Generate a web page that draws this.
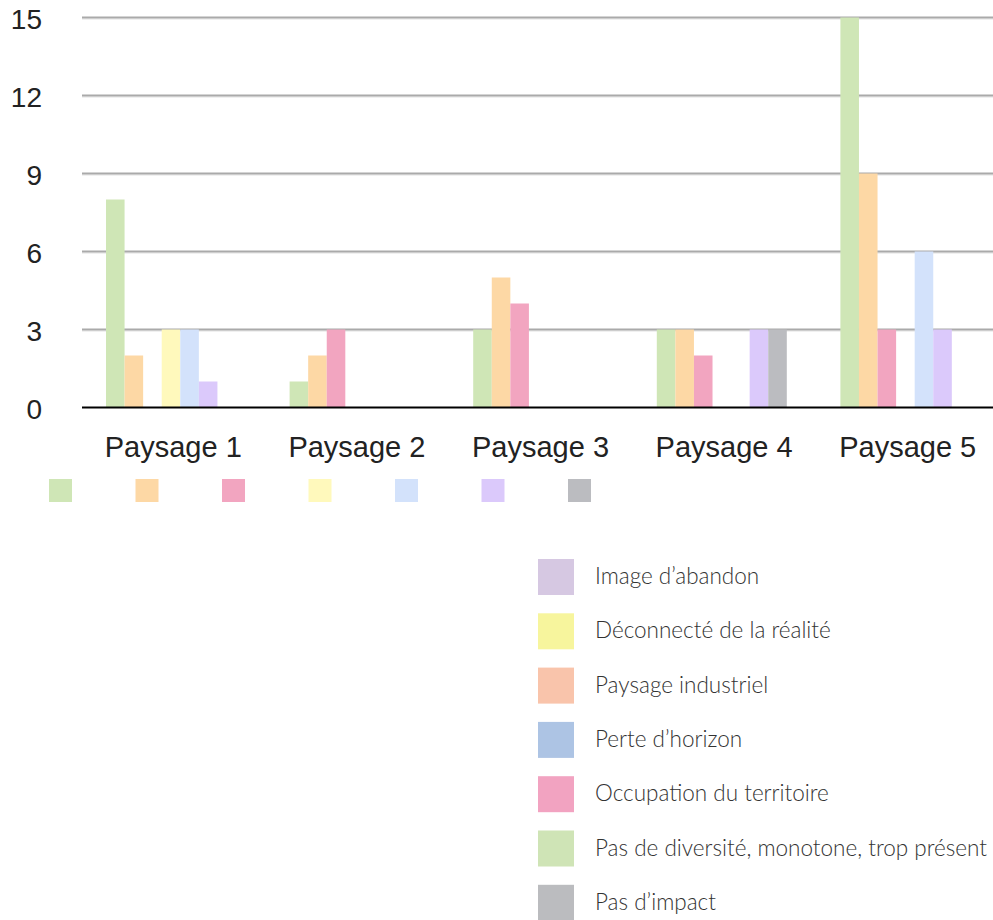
<!DOCTYPE html>
<html>
<head>
<meta charset="utf-8">
<script src="https://cdn.jsdelivr.net/npm/d3@7"></script>
<style>
  body { margin: 0; background: #fff; }
  svg { display: block; }
</style>
</head>
<body>
<svg></svg>
<script>
const width = 993,
  height = 920;

// categories and series
const paysages = ["Paysage 1", "Paysage 2", "Paysage 3", "Paysage 4", "Paysage 5"];
const series = ["diversite", "industriel", "occupation", "deconnecte", "horizon", "abandon", "impact"];
const barColors = ["#cfe6b6", "#fdd8a5", "#f2a5c0", "#fff9bc", "#d3e2fb", "#dbc9fb", "#bbbcc0"];

// values per series, one per paysage
const diversite = [8, 1, 3, 3, 15];
const industriel = [2, 2, 5, 3, 9];
const occupation = [0, 3, 4, 2, 3];
const deconnecte = [3, 0, 0, 0, 0];
const horizon = [3, 0, 0, 0, 6];
const abandon = [1, 0, 0, 3, 3];
const impact = [0, 0, 0, 3, 0];
const values = [diversite, industriel, occupation, deconnecte, horizon, abandon, impact];

const yTicks = [0, 3, 6, 9, 12, 15];

// second legend (labels + their own colours)
const legendLabels = [
  "Image d\u2019abandon",
  "D\u00e9connect\u00e9 de la r\u00e9alit\u00e9",
  "Paysage industriel",
  "Perte d\u2019horizon",
  "Occupation du territoire",
  "Pas de diversit\u00e9, monotone, trop pr\u00e9sent",
  "Pas d\u2019impact"
];
const legendColors = ["#d6c8e2", "#f7f59d", "#f9c4ab", "#adc4e4", "#f2a3c1", "#cfe4b6", "#bbbcbf"];

const svg = d3
  .select("svg")
  .attr("width", width)
  .attr("height", height);

/////////////////////////////// SCALES ///////////////////////////////
const x0 = d3
  .scaleBand()
  .domain(paysages)
  .range([81.5, 999.5]);

const x1 = d3
  .scaleBand()
  .domain(series)
  .range([24.5, 154.5]);

const y = d3
  .scaleLinear()
  .domain([0, 15])
  .range([407.5, 17.5]);

/////////////////////////////// GRID ///////////////////////////////
const grid = svg
  .append("g")
  .selectAll("g")
  .data(yTicks.slice(1))
  .enter()
  .append("g");

// soft shadow under each grid line
grid
  .append("line")
  .attr("x1", 82)
  .attr("x2", width)
  .attr("y1", d => y(d) + 1.5)
  .attr("y2", d => y(d) + 1.5)
  .attr("stroke", "#e2e2e2")
  .attr("stroke-width", 1);

grid
  .append("line")
  .attr("x1", 82)
  .attr("x2", width)
  .attr("y1", d => y(d))
  .attr("y2", d => y(d))
  .attr("stroke", "#aaaaaa")
  .attr("stroke-width", 2);

svg
  .append("g")
  .selectAll("text")
  .data(yTicks)
  .enter()
  .append("text")
  .attr("x", 42)
  .attr("y", d => y(d) + 11)
  .attr("text-anchor", "end")
  .attr("font-family", "'Liberation Sans', Arial, Helvetica, sans-serif")
  .attr("font-size", 28)
  .attr("fill", "#222")
  .text(d => d);

/////////////////////////////// BARS ///////////////////////////////
const groups = svg
  .append("g")
  .selectAll("g")
  .data(paysages)
  .enter()
  .append("g")
  .attr("transform", d => "translate(" + x0(d) + ",0)");

groups
  .selectAll("rect")
  .data((p, i) => series.map((s, k) => ({ s: s, k: k, v: values[k][i] })))
  .enter()
  .append("rect")
  .attr("x", d => x1(d.s))
  .attr("width", x1.bandwidth())
  .attr("y", d => y(d.v))
  .attr("height", d => y(0) - y(d.v))
  .attr("fill", d => barColors[d.k]);

// baseline
svg
  .append("line")
  .attr("x1", 82)
  .attr("x2", width)
  .attr("y1", y(0))
  .attr("y2", y(0))
  .attr("stroke", "#000")
  .attr("stroke-width", 2);

// category labels
svg
  .append("g")
  .selectAll("text")
  .data(paysages)
  .enter()
  .append("text")
  .attr("x", d => x0(d) + x0.bandwidth() / 2)
  .attr("y", 457)
  .attr("text-anchor", "middle")
  .attr("font-family", "'Liberation Sans', Arial, Helvetica, sans-serif")
  .attr("font-size", 29)
  .attr("fill", "#222")
  .text(d => d);

/////////////////////////////// LEGEND ROW (swatches only) ///////////////////////////////
svg
  .append("g")
  .selectAll("rect")
  .data(barColors)
  .enter()
  .append("rect")
  .attr("x", (d, i) => 49 + i * 86.5)
  .attr("y", 479)
  .attr("width", 23)
  .attr("height", 23)
  .attr("fill", d => d);

/////////////////////////////// LEGEND LIST ///////////////////////////////
const legend = svg
  .append("g")
  .selectAll("g")
  .data(legendLabels)
  .enter()
  .append("g")
  .attr("transform", (d, i) => "translate(538," + (559 + i * 54.3) + ")");

legend
  .append("rect")
  .attr("width", 36)
  .attr("height", 36)
  .attr("fill", (d, i) => legendColors[i]);

legend
  .append("text")
  .attr("x", 57)
  .attr("y", 25)
  .attr("font-family", "Lato, 'Open Sans', sans-serif")
  .attr("font-weight", 300)
  .attr("font-size", 22.5)
  .attr("fill", "#333")
  .text(d => d);
</script>
</body>
</html>
